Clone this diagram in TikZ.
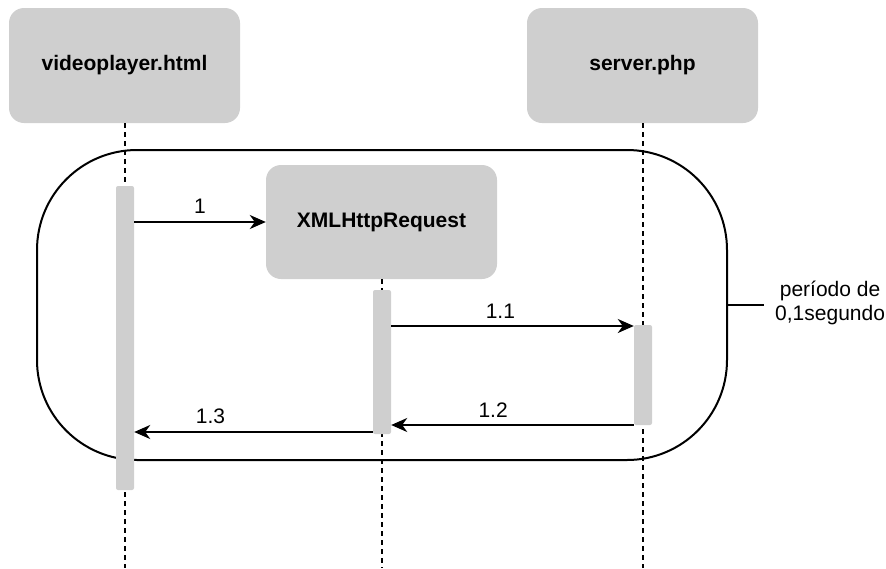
\documentclass[tikz,border=0pt]{standalone}
\usepackage{fontspec}
\setmainfont{Liberation Sans}
\usetikzlibrary{arrows.meta}
\definecolor{boxgray}{HTML}{CFCFCF}
\begin{document}
\begin{tikzpicture}[x=1pt,y=-1pt,
  header/.style={draw=none,fill=boxgray,rounded corners=15pt,minimum width=231pt,minimum height=115pt,inner sep=0pt,font=\fontsize{21}{25}\selectfont\bfseries},
  bar/.style={draw=none,fill=boxgray,rounded corners=2pt,minimum width=18pt,inner sep=0pt},
  life/.style={line width=2pt,dash pattern=on 5pt off 4pt},
  msg/.style={line width=2pt,-{Stealth[length=16pt,width=14pt,inset=5pt]}},
  lbl/.style={font=\fontsize{21}{25}\selectfont,inner sep=0pt}]
\useasboundingbox (0,0) rectangle (886,568);
% header boxes
\node[header] (vp) at (124.5,65.5) {videoplayer.html};
\node[header] (srv) at (642.5,65.5) {server.php};
\node[header,minimum height=114pt] (xml) at (381.5,222) {XMLHttpRequest};
% lifeline ends
\coordinate (vpend) at (125,568);
\coordinate (srvend) at (643,568);
\coordinate (xmlend) at (381.5,568);
\draw[life] (vp.south -| vpend) -- (vpend);
\draw[life] (srv.south -| srvend) -- (srvend);
\draw[life] (xml.south -| xmlend) -- (xmlend);
% period frame
\node[draw,line width=2pt,rounded corners=100pt,minimum width=690pt,minimum height=310pt,inner sep=0pt] (frame) at (382,305) {};
% activation bars
\node[bar,minimum height=304pt] (vpbar) at (125,338) {};
\node[bar,minimum height=144pt] (xmlbar) at (382,362) {};
\node[bar,minimum height=100pt] (srvbar) at (643,375) {};
% messages
\draw[msg] (vpbar.east |- xml.west) -- (xml.west) node[lbl,midway,above=8pt] {1};
\coordinate (m11) at (0,326);
\draw[msg] (xmlbar.east |- m11) -- (srvbar.west |- m11) node[lbl,pos=0.45,above=7pt] {1.1};
\coordinate (m12) at (0,425);
\draw[msg] (srvbar.west |- m12) -- (xmlbar.east |- m12) node[lbl,pos=0.58,above=7pt] {1.2};
\coordinate (m13) at (0,432);
\draw[msg] (xmlbar.west |- m13) -- (vpbar.east |- m13) node[lbl,pos=0.68,above=7pt] {1.3};
% period label
\draw[line width=1.5pt] (frame.east) -- ++(36,0) coordinate (pl);
\node[lbl,align=center,anchor=west,font=\fontsize{21}{24}\selectfont] (plabel) at ([xshift=11pt,yshift=2pt]pl) {período de\\0,1segundo};
\end{tikzpicture}
\end{document}
